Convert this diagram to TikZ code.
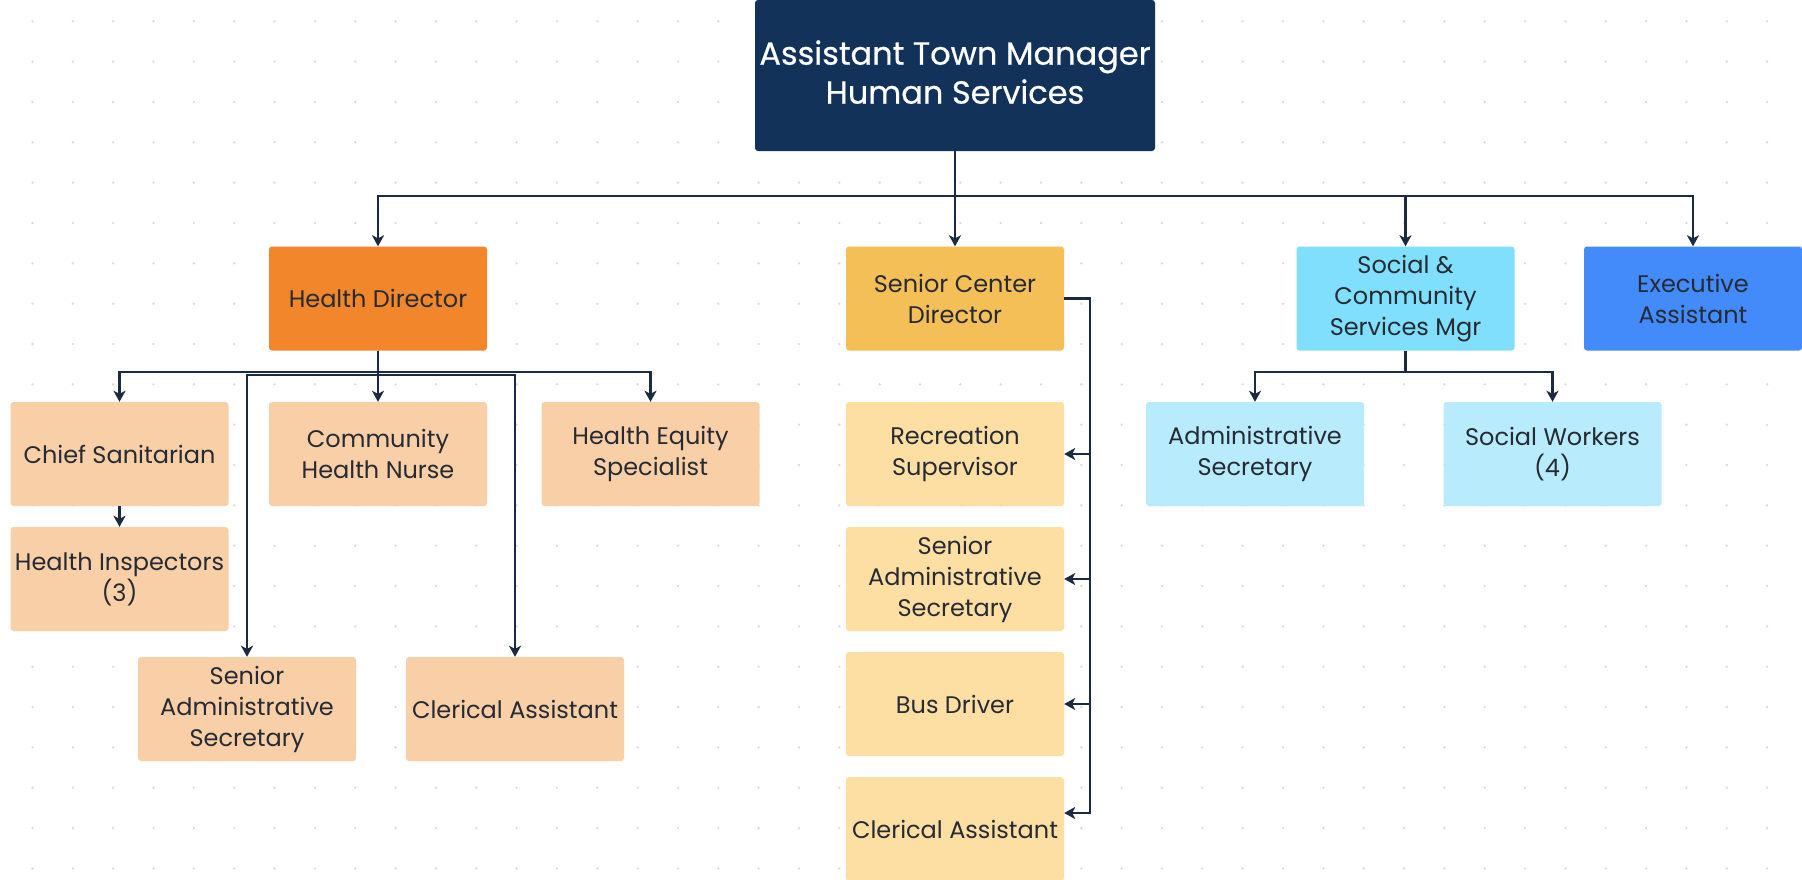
\documentclass[tikz,border=0pt]{standalone}
\usepackage{fontspec}
\setmainfont{Poppins}
\newfontfamily\topfont[FakeBold=0.6]{Poppins}
\usetikzlibrary{arrows.meta}
\definecolor{navy}{HTML}{13325A}
\definecolor{linec}{HTML}{1A2A40}
\definecolor{txt}{HTML}{262B33}
\definecolor{hdir}{HTML}{F2862B}
\definecolor{hsub}{HTML}{F9CFA8}
\definecolor{sdir}{HTML}{F5BF58}
\definecolor{ssub}{HTML}{FDDFA4}
\definecolor{cdir}{HTML}{80DFFC}
\definecolor{csub}{HTML}{B8EBFC}
\definecolor{exec}{HTML}{438BFB}
\definecolor{dotc}{HTML}{DADADA}
\begin{document}
\begin{tikzpicture}[x=1pt,y=-1pt,
  box/.style={rounded corners=3pt, minimum width=218pt, minimum height=104pt, inner sep=0pt, align=center, text=txt, font=\fontsize{24}{31}\selectfont},
  conn/.style={draw=linec, line width=2.6pt},
  arr/.style={conn, -{Stealth[length=11pt,width=12pt,inset=3pt]}}]
\useasboundingbox (0,0) rectangle (1802,879);
\fill[white] (0,0) rectangle (1802,879);
\foreach \i in {0,...,44}{
  \foreach \j in {0,...,21}{
    \fill[dotc] ({32.5+40.34*\i},{21.3+40.34*\j}) circle (1.3pt);
  }
}
% top
\node[box, fill=navy, text=white, minimum width=400pt, minimum height=151pt, font=\topfont\fontsize{32}{39}\selectfont] (top) at (955,75.5) {Assistant Town Manager\\Human Services\\[-32pt]};
% level 1
\node[box, fill=hdir] (hd) at (378,298.5) {Health Director};
\node[box, fill=sdir] (scd) at (955,298.5) {Senior Center\\Director};
\node[box, fill=cdir] (scm) at (1405.5,298.5) {Social \&\\Community\\Services Mgr};
\node[box, fill=exec] (ea) at (1693,298.5) {Executive\\Assistant};
% health
\node[box, fill=hsub] (cs) at (119.5,454) {Chief Sanitarian};
\node[box, fill=hsub] (chn) at (378,454) {Community\\Health Nurse};
\node[box, fill=hsub] (hes) at (650.5,454) {Health Equity\\Specialist};
\node[box, fill=hsub] (hi) at (119.5,579) {Health Inspectors\\(3)};
\node[box, fill=hsub] (hsas) at (247,709) {Senior\\Administrative\\Secretary};
\node[box, fill=hsub] (hca) at (515,709) {Clerical Assistant};
% senior center
\node[box, fill=ssub] (rs) at (955,454) {Recreation\\Supervisor};
\node[box, fill=ssub] (ssa) at (955,579) {Senior\\Administrative\\Secretary};
\node[box, fill=ssub] (bd) at (955,704) {Bus Driver};
\node[box, fill=ssub] (sca) at (955,829) {Clerical Assistant};
% social
\node[box, fill=csub] (as) at (1255,454) {Administrative\\Secretary};
\node[box, fill=csub] (sw) at (1552.5,454) {Social Workers\\(4)};
% connectors: top
\coordinate (tbus) at (955,196);
\begin{scope}[conn/.append style={line width=2.2pt}]
\draw[arr] (top.south) -- (tbus) -| (hd.north);
\draw[arr] (top.south) -- (scd.north);
\draw[arr] (top.south) -- (tbus) -| (scm.north);
\draw[arr] (top.south) -- (tbus) -| (ea.north);
\end{scope}
% health
\coordinate (hbus) at (378,372);
\coordinate (hbusb) at (378,375);
\draw[arr] (hd.south) -- (hbus) -| (cs.north);
\draw[arr] (hd.south) -- (chn.north);
\draw[arr] (hd.south) -- (hbus) -| (hes.north);
\draw[arr] (hd.south) -- (hbusb) -| (hsas.north);
\draw[arr] (hd.south) -- (hbusb) -| (hca.north);
\draw[arr] (cs.south) -- (hi.north);
% senior center
\coordinate (sbus) at (1090,298.5);
\draw[arr] (scd.east) -- (sbus) |- (rs.east);
\draw[arr] (scd.east) -- (sbus) |- (ssa.east);
\draw[arr] (scd.east) -- (sbus) |- (bd.east);
\draw[arr] (scd.east) -- (sbus) |- ([yshift=16pt]sca.east);
% social
\coordinate (cbus) at (1405.5,372);
\draw[arr] (scm.south) -- (cbus) -| (as.north);
\draw[arr] (scm.south) -- (cbus) -| (sw.north);
\end{tikzpicture}
\end{document}
